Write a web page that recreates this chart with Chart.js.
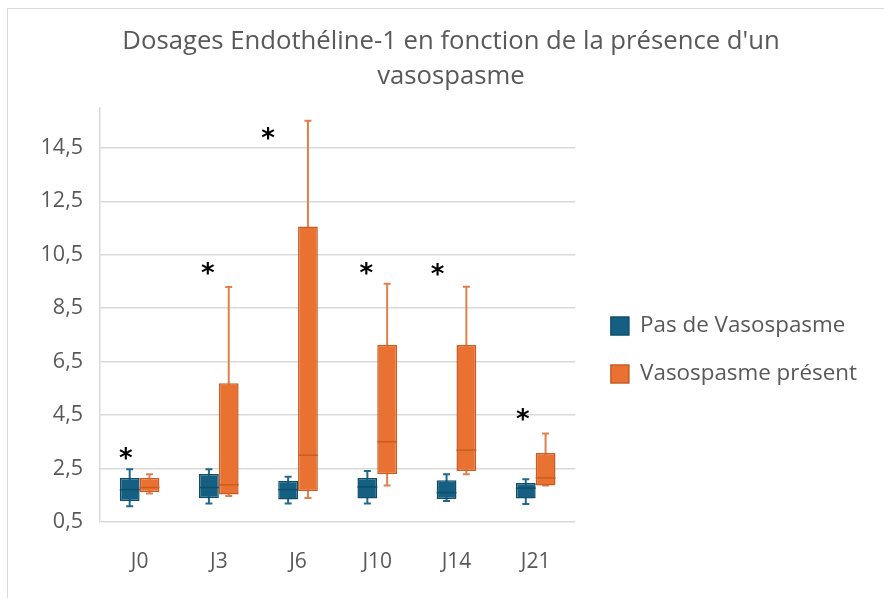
<!DOCTYPE html>
<html>
<head>
<meta charset="utf-8">
<script src="https://cdn.jsdelivr.net/npm/chart.js@4.4.1/dist/chart.umd.min.js"></script>
<style>
  html, body { margin: 0; padding: 0; background: #fff; }
  #wrap { position: relative; width: 884px; height: 598px; }
  #frame { position: absolute; left: 7px; top: 8px; right: 0; bottom: 0;
           border-left: 1px solid #d9d9d9; border-top: 1px solid #d9d9d9; pointer-events: none; }
</style>
</head>
<body>
<div id="wrap">
  <canvas id="chart" width="884" height="598"></canvas>
  <div id="frame"></div>
</div>
<script>
const categories = ['J0', 'J3', 'J6', 'J10', 'J14', 'J21'];

// Pas de Vasospasme
const noMin    = [1.09, 1.19, 1.19, 1.19, 1.29, 1.17];
const noQ1     = [1.29, 1.39, 1.34, 1.38, 1.36, 1.38];
const noMedian = [1.71, 1.79, 1.71, 1.81, 1.60, 1.77];
const noQ3     = [2.15, 2.30, 2.04, 2.15, 2.06, 1.96];
const noMax    = [2.47, 2.47, 2.19, 2.41, 2.29, 2.10];

// Vasospasme présent
const vsMin    = [1.57, 1.47, 1.40, 1.87, 2.29, 1.87];
const vsQ1     = [1.62, 1.53, 1.65, 2.29, 2.41, 1.87];
const vsMedian = [1.79, 1.89, 3.00, 3.50, 3.19, 2.15];
const vsQ3     = [2.15, 5.69, 11.56, 7.13, 7.13, 3.08];
const vsMax    = [2.29, 9.29, 15.51, 9.41, 9.30, 3.81];

// level of the "*" significance marks
const starLevels = [3.07, 10.0, 15.05, 10.0, 9.93, 4.52];

const yTicks = [0.5, 2.5, 4.5, 6.5, 8.5, 10.5, 12.5, 14.5];

const textColor = '#595959';
const font = "'Open Sans', 'Noto Sans', sans-serif";

// whiskers behind the boxes, medians and stars on top
const boxPlot = {
  id: 'boxPlot',
  beforeDatasetsDraw(chart, args, opts) {
    const ctx = chart.ctx;
    const y = chart.scales.y;
    chart.data.datasets.forEach((ds, i) => {
      const meta = chart.getDatasetMeta(i);
      meta.data.forEach((bar, j) => {
        const top = y.getPixelForValue(ds.whiskerMax[j]);
        const bot = y.getPixelForValue(ds.whiskerMin[j]);
        ctx.save();
        ctx.strokeStyle = ds.whiskerColor;
        ctx.lineWidth = 2;
        ctx.beginPath();
        ctx.moveTo(bar.x, top);
        ctx.lineTo(bar.x, bot);
        ctx.moveTo(bar.x - 3.5, top);
        ctx.lineTo(bar.x + 3.5, top);
        ctx.moveTo(bar.x - 3.5, bot);
        ctx.lineTo(bar.x + 3.5, bot);
        ctx.stroke();
        ctx.restore();
      });
    });
  },
  afterDatasetsDraw(chart, args, opts) {
    const ctx = chart.ctx;
    const y = chart.scales.y;
    chart.data.datasets.forEach((ds, i) => {
      const meta = chart.getDatasetMeta(i);
      meta.data.forEach((bar, j) => {
        const m = y.getPixelForValue(ds.median[j]);
        ctx.save();
        ctx.strokeStyle = ds.borderColor;
        ctx.lineWidth = 1.5;
        ctx.beginPath();
        ctx.moveTo(bar.x - bar.width / 2, m);
        ctx.lineTo(bar.x + bar.width / 2, m);
        ctx.stroke();
        ctx.restore();
      });
    });

    // stars above the groups
    const first = chart.getDatasetMeta(0);
    ctx.save();
    ctx.fillStyle = '#000';
    ctx.font = "bold 26px 'DejaVu Sans', sans-serif";
    ctx.textAlign = 'center';
    ctx.textBaseline = 'alphabetic';
    const mt = ctx.measureText('*');
    const shift = (mt.actualBoundingBoxAscent - mt.actualBoundingBoxDescent) / 2;
    starLevels.forEach((v, j) => {
      const bar = first.data[j];
      ctx.fillText('*', bar.x + opts.starNudge[j], y.getPixelForValue(v) + shift);
    });
    ctx.restore();
  }
};

new Chart(document.getElementById('chart'), {
  type: 'bar',
  data: {
    labels: categories,
    datasets: [
      {
        label: 'Pas de Vasospasme',
        data: noQ1.map((q, i) => [q, noQ3[i]]),
        median: noMedian, whiskerMin: noMin, whiskerMax: noMax,
        backgroundColor: '#156082',
        borderColor: '#104d69',
        whiskerColor: '#1f6a8c',
        borderWidth: 1.5,
        borderSkipped: false
      },
      {
        label: 'Vasospasme présent',
        data: vsQ1.map((q, i) => [q, vsQ3[i]]),
        median: vsMedian, whiskerMin: vsMin, whiskerMax: vsMax,
        backgroundColor: '#E97132',
        borderColor: '#c85d24',
        whiskerColor: '#e0804d',
        borderWidth: 1.5,
        borderSkipped: false
      }
    ]
  },
  options: {
    responsive: false,
    animation: false,
    layout: { padding: { left: 35, right: 17, top: 0, bottom: 0 } },
    categoryPercentage: 0.5,
    barPercentage: 1.0,
    plugins: {
      boxPlot: { starNudge: [-4, -1, -20, -1, -9, -3] },
      tooltip: { enabled: false },
      title: {
        display: true,
        text: ["Dosages Endothéline-1 en fonction de la présence d'un", 'vasospasme'],
        color: textColor,
        font: { family: font, size: 25.7, weight: 'normal', lineHeight: 1.36 },
        padding: { top: 24.5, bottom: 13.3 }
      },
      legend: {
        position: 'right',
        maxWidth: 400,
        title: { display: true, text: ' ', font: { size: 10, lineHeight: 1 }, padding: { top: 0, bottom: 92 } },
        labels: {
          boxWidth: 18,
          boxHeight: 18,
          padding: 25.6,
          color: textColor,
          font: { family: font, size: 22.4 }
        }
      }
    },
    scales: {
      x: {
        grid: { display: false },
        border: { display: false },
        ticks: { color: textColor, font: { family: font, size: 21 }, padding: 19 },
        afterFit(scale) { scale.height = 76; }
      },
      y: {
        min: 0.5,
        max: 16,
        afterBuildTicks(scale) { scale.ticks = yTicks.map(v => ({ value: v })); },
        grid: { color: '#d9d9d9', lineWidth: 1.5, drawTicks: false },
        border: { display: true, color: '#d9d9d9', width: 1.5 },
        ticks: {
          color: textColor,
          font: { family: font, size: 21.5 },
          padding: 17,
          callback: v => String(v).replace('.', ',')
        },
        afterFit(scale) { scale.width = 65; }
      },
      // empty spacer between plot and legend
      gap: {
        position: 'right',
        display: true,
        grid: { display: false },
        border: { display: false },
        ticks: { display: false },
        afterFit(scale) { scale.width = 10; }
      }
    }
  },
  plugins: [boxPlot]
});
</script>
</body>
</html>
